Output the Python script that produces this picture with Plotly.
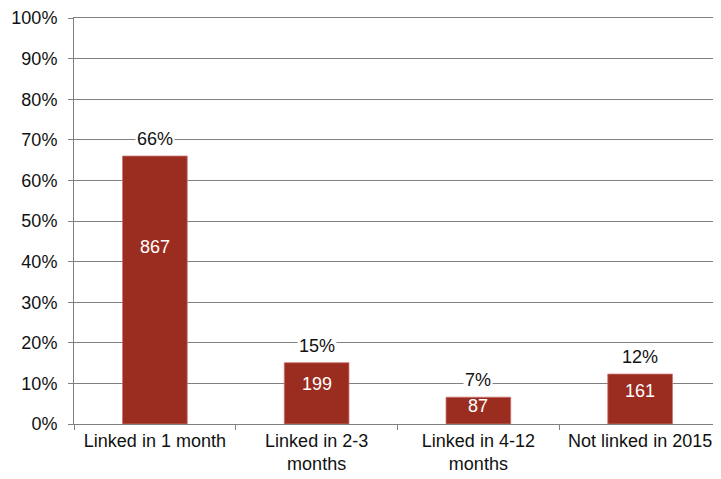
import plotly.graph_objects as go

categories = ["Linked in 1 month", "Linked in 2-3<br>months", "Linked in 4-12<br>months", "Not linked in 2015"]
pct_values = [66.0, 15.1, 6.6, 12.3]
pct_labels = ["66%", "15%", "7%", "12%"]
counts = ["867", "199", "87", "161"]
y_ticks = list(range(0, 101, 10))
y_tick_labels = [f"{t}%" for t in y_ticks]

bar_color = "#9B2C20"
font = "Liberation Sans, Arial, sans-serif"
fs = 18

fig = go.Figure()
fig.add_trace(go.Bar(
    x=categories, y=pct_values, width=0.4,
    marker=dict(color=bar_color, line=dict(color="#C8776E", width=0.8)),
    hoverinfo="skip",
))

annotations = []
for c, v, pl, n in zip(categories, pct_values, pct_labels, counts):
    annotations.append(dict(x=c, y=v, text=pl, showarrow=False, yanchor="bottom",
                            yshift=5, bgcolor="white", borderpad=1,
                            font=dict(family=font, size=fs, color="#111")))
    annotations.append(dict(x=c, y=v * 0.66, text=n, showarrow=False, yanchor="middle",
                            font=dict(family=font, size=fs, color="white")))

# page body has an 8px margin, so the figure is sized to fit within the window
fig.update_layout(
    width=713, height=471,
    margin=dict(l=66, r=0, t=10, b=55, autoexpand=False),
    paper_bgcolor="white", plot_bgcolor="white",
    showlegend=False,
    bargap=0.6,
    font=dict(family=font, size=fs, color="#111"),
    annotations=annotations,
    xaxis=dict(showline=True, mirror=True, linecolor="#808080", linewidth=1, automargin=False,
               ticks="outside", tickson="boundaries", ticklen=5, tickcolor="#808080",
               showgrid=False, tickfont=dict(size=fs)),
    yaxis=dict(range=[0, 100], tickvals=y_ticks, ticktext=y_tick_labels, automargin=False,
               showline=True, linecolor="#808080", linewidth=1,
               ticks="outside", ticklen=5, tickcolor="#808080", ticklabelstandoff=7,
               ticklabeloverflow="allow",
               showgrid=True, gridcolor="#808080", gridwidth=1,
               zeroline=False, tickfont=dict(size=fs)),
)

fig.write_html("out.html")
